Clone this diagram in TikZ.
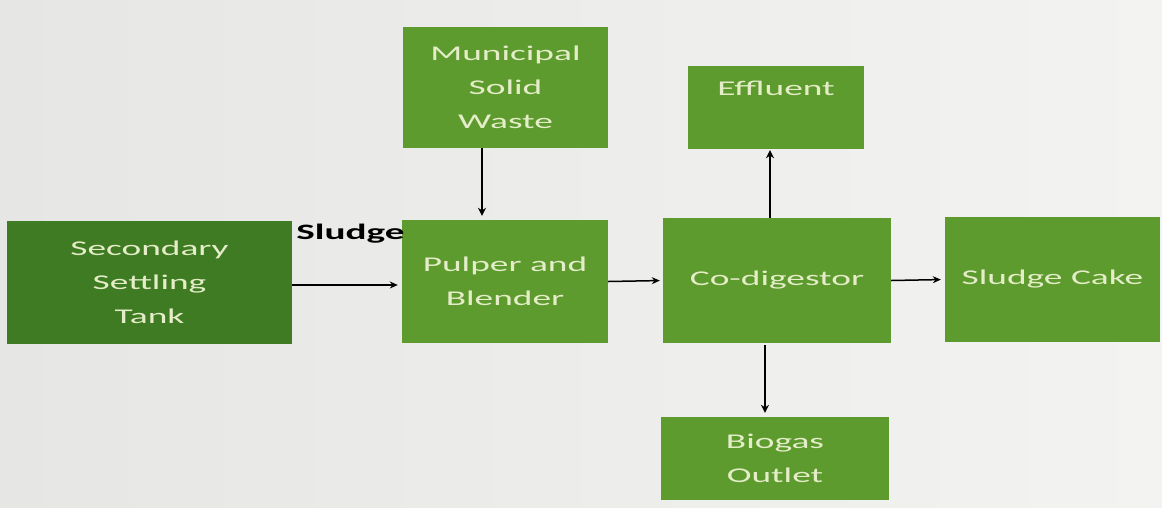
\documentclass[tikz,border=0pt]{standalone}
\usepackage{fontspec}
\setmainfont{Carlito}[FakeStretch=1.78]
\usetikzlibrary{arrows.meta}
\definecolor{bgl}{HTML}{E6E6E4}
\definecolor{bgr}{HTML}{F3F3F1}
\definecolor{dkgreen}{HTML}{3E7B22}
\definecolor{greenbox}{HTML}{5E9B2E}
\definecolor{txtc}{HTML}{E4EDC8}
\begin{document}
\begin{tikzpicture}[x=1pt,y=-1pt,
  box/.style={rectangle, fill=greenbox, draw=none, inner sep=0pt, text=txtc, align=center, font=\fontsize{21}{34}\selectfont},
  boxtext/.style={text=txtc, inner sep=0pt, font=\fontsize{21}{34}\selectfont},
  arr/.style={draw=black, line width=1.5pt, -{Stealth[length=8pt,width=7pt]}},
  varr/.style={draw=black, line width=2.7pt, -{Stealth[length=8pt,width=8pt]}}
]
\shade[left color=bgl, right color=bgr] (0,0) rectangle (1162,507);
\useasboundingbox (0,0) rectangle (1162,507);

\node[box, fill=dkgreen, minimum width=285pt, minimum height=123pt] (sst) at (149.5,282) {Secondary\\Settling\\Tank};
\node[box, minimum width=205pt, minimum height=121pt] (msw) at (505.5,87.5) {Municipal\\Solid\\Waste};
\node[box, minimum width=206pt, minimum height=123pt] (pb) at (505,281.5) {Pulper and\\Blender};
\node[box, minimum width=176pt, minimum height=83pt] (eff) at (776,107.5) {};
\node[boxtext, anchor=base] (efft) at ([yshift=-30pt]eff.north) {Effluent};
\node[box, minimum width=228pt, minimum height=125pt] (co) at (777,280.5) {Co-digestor};
\node[box, minimum width=215pt, minimum height=125pt] (sc) at (1052.5,279.5) {Sludge Cake};
\node[box, minimum width=228pt, minimum height=83pt] (bio) at (775,458.5) {Biogas\\Outlet};

\node[anchor=base west, inner sep=0pt, font=\fontsize{22}{26}\selectfont\bfseries, text=black] (slabel) at ([xshift=4pt,yshift=-19pt]sst.north east) {Sludge};

\draw[arr, shorten >=4pt] ([yshift=-3pt]sst.east) -- ([yshift=-3.5pt]pb.west);
\draw[arr, shorten >=3pt] (pb.east) -- (co.west);
\draw[arr, shorten >=4pt] (co.east) -- (sc.west);
\draw[varr, shorten >=4pt] ([xshift=-23.5pt]msw.south) -- ([xshift=-23pt]pb.north);
\draw[varr, shorten >=1pt] ([xshift=-7pt]co.north) -- ([xshift=-6pt]eff.south);
\draw[varr, shorten <=2pt, shorten >=4pt] ([xshift=-12pt]co.south) -- ([xshift=-10pt]bio.north);
\end{tikzpicture}
\end{document}
